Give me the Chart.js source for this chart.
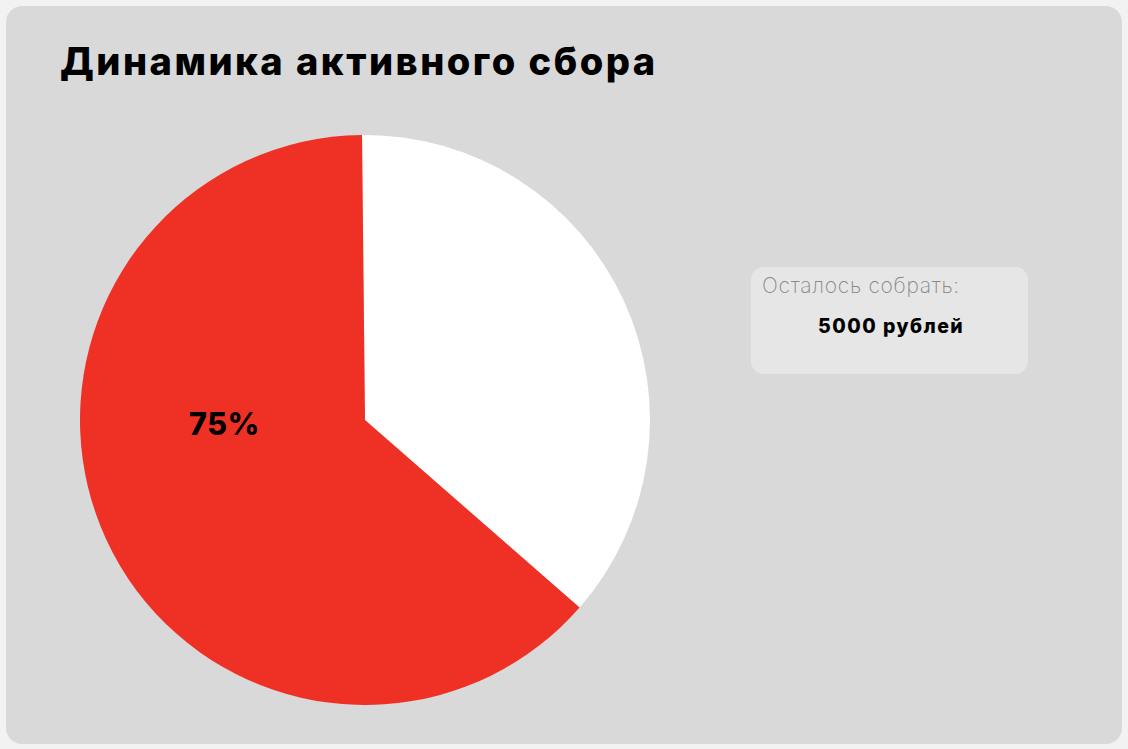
<!DOCTYPE html>
<html lang="ru">
<head>
<meta charset="utf-8">
<script src="https://cdn.jsdelivr.net/npm/chart.js@4"></script>
<style>
  html, body { margin: 0; padding: 0; background: #f2f2f2; }
  body { width: 1128px; height: 749px; position: relative; overflow: hidden; font-family: "Inter", "Noto Sans", sans-serif; }
  .card { position: absolute; left: 6px; top: 6px; width: 1116px; height: 738px; background: #d9d9d9; border-radius: 16px; }
  h1 { position: absolute; left: 60px; top: 38px; margin: 0; font-size: 38px; font-weight: 800; color: #000; letter-spacing: 2.5px; }
  #pie-wrap { position: absolute; left: 80px; top: 135px; width: 570px; height: 570px; }
  .pct { position: absolute; left: 189px; top: 405px; font-size: 31px; font-weight: 800; color: #000; letter-spacing: 0.3px; }
  .info { position: absolute; left: 751px; top: 267px; width: 277px; height: 107px; background: #e6e6e6; border-radius: 13px; }
  .info .label { position: absolute; left: 11px; top: 6px; font-size: 21px; font-weight: 200; color: #888; letter-spacing: 0.7px; }
  .info .value { position: absolute; left: 67px; top: 47px; font-size: 19.5px; font-weight: 800; color: #000; letter-spacing: 1.5px; }
</style>
</head>
<body>
<div class="card"></div>
<h1>Динамика активного сбора</h1>
<div id="pie-wrap"><canvas id="pie" width="570" height="570"></canvas></div>
<div class="pct" id="pct"></div>
<div class="info">
  <div class="label">Осталось собрать:</div>
  <div class="value" id="remain"></div>
</div>
<script>
const labels = ["Осталось", "Собрано"];
const values = [36.6, 63.4];
const sliceColors = ["#ffffff", "#ef3024"];
const percentLabel = "75%";
const remaining = "5000 рублей";

document.getElementById("pct").textContent = percentLabel;
document.getElementById("remain").textContent = remaining;

new Chart(document.getElementById("pie"), {
  type: "pie",
  data: {
    labels: labels,
    datasets: [
      {
        data: values,
        backgroundColor: sliceColors,
        borderWidth: 0,
      },
    ],
  },
  options: {
    responsive: false,
    animation: false,
    rotation: -0.6,
    layout: { padding: 0 },
    plugins: {
      legend: { display: false },
      tooltip: { enabled: false },
    },
  },
});
</script>
</body>
</html>
